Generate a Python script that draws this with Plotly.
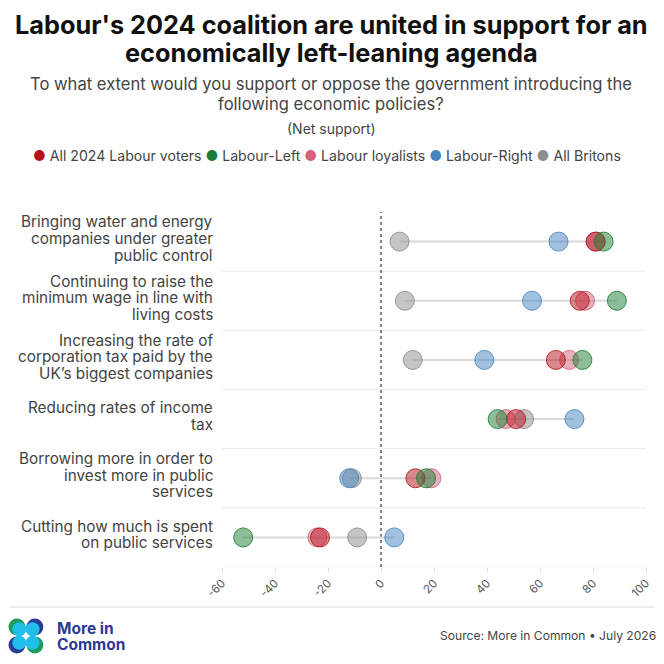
import plotly.graph_objects as go

# ---------------- data ----------------
policies = [
    "Bringing water and energy<br>companies under greater<br>public control",
    "Continuing to raise the<br>minimum wage in line with<br>living costs",
    "Increasing the rate of<br>corporation tax paid by the<br>UK’s biggest companies",
    "Reducing rates of income<br>tax",
    "Borrowing more in order to<br>invest more in public<br>services",
    "Cutting how much is spent<br>on public services",
]
series_names = ["All 2024 Labour voters", "Labour-Left", "Labour loyalists", "Labour-Right", "All Britons"]
all_labour = [81, 75, 66, 51, 13, -23]
labour_left = [84, 89, 76, 44, 17, -52]
labour_loyalists = [81, 77, 71, 47, 19, -24]
labour_right = [67, 57, 39, 73, -12, 5]
all_britons = [7, 9, 12, 54, -11, -9]
x_ticks = [-60, -40, -20, 0, 20, 40, 60, 80, 100]

colors = {
    "All 2024 Labour voters": "181,18,27",
    "Labour-Left": "28,125,52",
    "Labour loyalists": "212,96,122",
    "Labour-Right": "70,132,192",
    "All Britons": "140,140,140",
}
values = {
    "All 2024 Labour voters": all_labour,
    "Labour-Left": labour_left,
    "Labour loyalists": labour_loyalists,
    "Labour-Right": labour_right,
    "All Britons": all_britons,
}

# page body has an 8px margin: the figure is sized so it fits the 664px window
OFF = 8
W, H = 656, 656
ML, MR, MT, MB = 222 - OFF, 16, 212 - OFF, 97
PW, PH = W - ML - MR, H - MT - MB


def px(x):
    """reference-page x pixel -> paper coordinate"""
    return (x - OFF - ML) / PW


def py(y):
    """reference-page y pixel -> paper coordinate"""
    return (H - MB - (y - OFF)) / PH


n = len(policies)
ypos = [n - 1 - i for i in range(n)]
FONT = "Inter"

fig = go.Figure()

# connecting lines (min to max per row)
lx, ly = [], []
for i in range(n):
    vals = [values[s][i] for s in series_names]
    lx += [min(vals), max(vals), None]
    ly += [ypos[i], ypos[i], None]
fig.add_trace(go.Scatter(x=lx, y=ly, mode="lines", line=dict(color="#dadada", width=2),
                         hoverinfo="skip", showlegend=False))

draw_order = ["Labour loyalists", "All Britons", "Labour-Right", "All 2024 Labour voters", "Labour-Left"]
for s in draw_order:
    c = colors[s]
    fig.add_trace(go.Scatter(
        x=values[s], y=ypos, mode="markers", name=s, showlegend=False,
        marker=dict(size=19, color=f"rgba({c},0.5)", line=dict(color=f"rgba({c},0.85)", width=1)),
    ))

shapes = []
# row separators
for k in range(n):
    yv = k - 0.5
    shapes.append(dict(type="line", xref="paper", yref="y", x0=0, x1=1, y0=yv, y1=yv,
                       line=dict(color="#ebebeb", width=1), layer="below"))
# zero dotted line
shapes.append(dict(type="line", xref="x", yref="paper", x0=0, x1=0, y0=0, y1=1,
                   line=dict(color="#333333", width=1.2, dash="dot"), layer="below"))
# footer rule
shapes.append(dict(type="line", xref="paper", yref="paper", x0=px(8), x1=px(657), y0=py(607), y1=py(607),
                   line=dict(color="#dddddd", width=1)))
# logo circles
r = 8.5
logo = [(16, 627, "#1a9e5a", 2.3, 2.3), (34, 627, "#2a3a96", -2.3, 2.3),
        (16, 645, "#2a3a96", 2.3, -2.3), (34, 645, "#1a9e5a", -2.3, -2.3)]
for (cx, cy, col, dx, dy) in logo:
    shapes.append(dict(type="circle", xref="paper", yref="paper",
                       x0=px(cx - r), x1=px(cx + r), y0=py(cy + r), y1=py(cy - r),
                       fillcolor=col, line=dict(width=0)))
for (cx, cy, col, dx, dy) in logo:
    rr = 7.0
    shapes.append(dict(type="circle", xref="paper", yref="paper",
                       x0=px(cx + dx - rr), x1=px(cx + dx + rr), y0=py(cy + dy + rr), y1=py(cy + dy - rr),
                       fillcolor="#1fbfea", line=dict(width=0)))

legend_text = " ".join(
    f"<span style='color:rgb({colors[s]})'>●</span> {s}" for s in series_names
)


def ann(text, x, y, size, color="#444444", xanchor="center", bold=False, align="center"):
    return dict(text=f"<b>{text}</b>" if bold else text, xref="paper", yref="paper",
                x=px(x), y=py(y), xanchor=xanchor, yanchor="middle", align=align,
                showarrow=False, font=dict(family=FONT, size=size, color=color))


annotations = [
    ann("Labour's 2024 coalition are united in support for an", 332, 24, 25.3, "#111111", bold=True),
    ann("economically left-leaning agenda", 332, 53, 25.3, "#111111", bold=True),
    ann("To what extent would you support or oppose the government introducing the", 332, 84, 16.6),
    ann("following economic policies?", 332, 104, 16.6),
    ann("(Net support)", 332, 128, 14),
    ann(legend_text, 327, 156, 14.1),
    ann("Source: More in Common • July 2026", 660, 635, 12.1, xanchor="right"),
    ann("More in", 54, 628, 15.5, "#2a3a96", xanchor="left", bold=True),
    ann("Common", 54, 644, 15.5, "#2a3a96", xanchor="left", bold=True),
]

# category labels, one annotation per wrapped line
LINE = 16.7
for i, lab in enumerate(policies):
    lines = lab.split("<br>")
    k = len(lines)
    for j, t in enumerate(lines):
        shift = 3 + ((k - 1) / 2 - j) * LINE
        annotations.append(dict(text=t, xref="paper", yref="y", x=px(215), y=ypos[i], yshift=shift,
                                xanchor="right", yanchor="middle", showarrow=False,
                                font=dict(family=FONT, size=15.3, color="#444444")))

fig.update_layout(
    width=W, height=H, margin=dict(l=ML, r=MR, t=MT, b=MB),
    paper_bgcolor="white", plot_bgcolor="white",
    shapes=shapes, annotations=annotations, showlegend=False,
    xaxis=dict(range=[-60, 100], tickvals=x_ticks, ticktext=[str(t) for t in x_ticks], tickangle=-45,
               showgrid=False, zeroline=False, showline=False, ticks="outside", ticklen=4,
               tickcolor="#dddddd", tickfont=dict(family=FONT, size=11.5, color="#555555")),
    yaxis=dict(range=[-0.5, n - 0.5], tickvals=ypos, showticklabels=False, showgrid=False,
               zeroline=False, showline=False, ticks=""),
)

fig.write_html("out.html", config={"displayModeBar": False})
